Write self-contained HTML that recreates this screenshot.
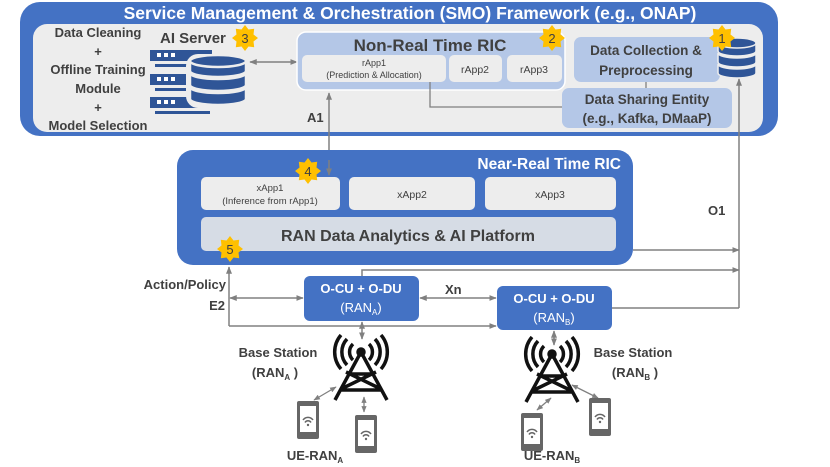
<!DOCTYPE html>
<html><head><meta charset="utf-8"><style>
html,body{margin:0;padding:0;background:#fff;}
svg{display:block;font-family:"Liberation Sans",sans-serif;}
.t{font-weight:bold;fill:#404040;}
</style></head><body>
<svg width="830" height="467" viewBox="0 0 830 467" xmlns="http://www.w3.org/2000/svg">
<defs>
<marker id="a" viewBox="0 0 10 10" refX="9" refY="5" markerWidth="5" markerHeight="5" orient="auto-start-reverse"><path d="M0,1 L10,5 L0,9 z" fill="#808080"/></marker>
<g id="star"><polygon points="0,-13 3.5,-8.5 9.2,-9.2 8.5,-3.5 13,0 8.5,3.5 9.2,9.2 3.5,8.5 0,13 -3.5,8.5 -9.2,9.2 -8.5,3.5 -13,0 -8.5,-3.5 -9.2,-9.2 -3.5,-8.5" fill="#FFC000"/></g>
<g id="phone"><rect x="-11" y="-19" width="22" height="38" rx="2" fill="#666"/><rect x="-8" y="-14" width="16" height="26" fill="#fff"/><path d="M-5,0 a6,6 0 0 1 10,0 M-3,2.5 a3.5,3.5 0 0 1 6,0" stroke="#666" stroke-width="1.5" fill="none"/><circle cx="0" cy="5" r="1.2" fill="#666"/></g>
<g id="tower" stroke="#111" stroke-width="3.5" fill="none"><path d="M0,0 L-26,48 M0,0 L26,48 M-20,37 L15,20 M20,37 L-15,20 M-12,22 L12,22 M-21,38 L21,38"/><path d="M-8,-8 a11,11 0 0 0 0,16 M8,-8 a11,11 0 0 1 0,16 M-14,-13 a19,19 0 0 0 0,26 M14,-13 a19,19 0 0 1 0,26 M-20,-17 a26,26 0 0 0 0,34 M20,-17 a26,26 0 0 1 0,34"/><circle cx="0" cy="0" r="3" fill="#111"/></g>
</defs>

<rect x="20" y="2" width="758" height="134" rx="20" fill="#4472C4"/>
<text x="410" y="19" text-anchor="middle" font-size="17.5" font-weight="bold" fill="#fff">Service Management &amp; Orchestration (SMO) Framework (e.g., ONAP)</text>
<rect x="33" y="24" width="730" height="108" rx="14" fill="#EDEDED"/>
<g class="t" font-size="13" text-anchor="middle">
<text x="98" y="37">Data Cleaning</text><text x="98" y="56">+</text>
<text x="98" y="74">Offline Training</text><text x="98" y="93">Module</text>
<text x="98" y="112">+</text><text x="98" y="130">Model Selection</text>
</g>
<text x="160" y="43" class="t" font-size="15">AI Server</text>
<use href="#star" x="245" y="38"/><text x="245" y="43" text-anchor="middle" font-size="13" fill="#404040">3</text>
<g fill="#2F5597">
<rect x="150" y="50" width="62" height="11"/><rect x="150" y="74" width="62" height="11"/><rect x="150" y="97" width="62" height="11"/>
<rect x="155" y="64" width="55" height="3"/><rect x="155" y="88" width="55" height="3"/><rect x="155" y="111" width="55" height="3"/>
</g>
<g fill="#fff"><rect x="157" y="53" width="4" height="4"/><rect x="164" y="53" width="4" height="4"/><rect x="171" y="53" width="4" height="4"/>
<rect x="157" y="77" width="4" height="4"/><rect x="164" y="77" width="4" height="4"/><rect x="171" y="77" width="4" height="4"/>
<rect x="157" y="100" width="4" height="4"/><rect x="164" y="100" width="4" height="4"/><rect x="171" y="100" width="4" height="4"/></g>
<rect x="186" y="54" width="64" height="54" rx="12" fill="#EDEDED"/>
<g fill="#2F5597" stroke="#EDEDED" stroke-width="2.5">
<path d="M190,87 v12 a28,6 0 0 0 56,0 v-12 a28,6 0 0 1 -56,0z"/>
<path d="M190,73 v12 a28,6 0 0 0 56,0 v-12 a28,6 0 0 1 -56,0z"/>
<path d="M190,61 v10 a28,6 0 0 0 56,0 v-10 z"/>
<ellipse cx="218" cy="61" rx="28" ry="6"/>
</g>
<line x1="250" y1="62" x2="297" y2="62" stroke="#808080" stroke-width="1.5" marker-start="url(#a)" marker-end="url(#a)"/>

<rect x="297" y="32" width="268" height="58" rx="9" fill="#B4C7E7" stroke="#fff" stroke-width="1.5"/>
<text x="430" y="51" text-anchor="middle" class="t" font-size="17">Non-Real Time RIC</text>
<use href="#star" x="552" y="38"/><text x="552" y="43" text-anchor="middle" font-size="13" fill="#404040">2</text>
<rect x="302" y="55" width="144" height="27" rx="5" fill="#EDEDED"/>
<text x="374" y="66" text-anchor="middle" font-size="9" fill="#404040">rApp1</text>
<text x="374" y="78" text-anchor="middle" font-size="9" fill="#404040">(Prediction &amp; Allocation)</text>
<rect x="449" y="55" width="53" height="27" rx="5" fill="#EDEDED"/>
<text x="475" y="73" text-anchor="middle" font-size="10.5" fill="#404040">rApp2</text>
<rect x="507" y="55" width="55" height="27" rx="5" fill="#EDEDED"/>
<text x="534" y="73" text-anchor="middle" font-size="10.5" fill="#404040">rApp3</text>

<rect x="574" y="37" width="146" height="45" rx="7" fill="#B4C7E7"/>
<text x="646" y="55" text-anchor="middle" class="t" font-size="13.5">Data Collection &amp;</text>
<text x="646" y="75" text-anchor="middle" class="t" font-size="13.5">Preprocessing</text>
<g fill="#2F5597" stroke="#EDEDED" stroke-width="1.5">
<path d="M718,64 v9 a19,5 0 0 0 38,0 v-9 a19,5 0 0 1 -38,0z"/>
<path d="M718,53 v9 a19,5 0 0 0 38,0 v-9 a19,5 0 0 1 -38,0z"/>
<path d="M718,43 v8 a19,5 0 0 0 38,0 v-8z"/>
<ellipse cx="737" cy="43" rx="19" ry="5"/>
</g>
<use href="#star" x="722" y="38"/><text x="722" y="43" text-anchor="middle" font-size="13" fill="#404040">1</text>
<line x1="646" y1="82" x2="646" y2="88" stroke="#808080" stroke-width="1.3"/>
<polyline points="430,82 430,107 562,107" fill="none" stroke="#808080" stroke-width="1.3"/>
<rect x="562" y="88" width="170" height="40" rx="7" fill="#B4C7E7"/>
<text x="647" y="104" text-anchor="middle" class="t" font-size="13.5">Data Sharing Entity</text>
<text x="647" y="123" text-anchor="middle" class="t" font-size="13.5">(e.g., Kafka, DMaaP)</text>

<line x1="329" y1="173" x2="329" y2="93" stroke="#808080" stroke-width="1.5" marker-start="url(#a)" marker-end="url(#a)"/>
<text x="307" y="122" class="t" font-size="13">A1</text>

<line x1="739" y1="308" x2="739" y2="79" stroke="#808080" stroke-width="1.5" marker-end="url(#a)"/>
<text x="708" y="215" class="t" font-size="13">O1</text>
<line x1="633" y1="250" x2="739" y2="250" stroke="#808080" stroke-width="1.5" marker-end="url(#a)"/>
<polyline points="362,276 362,270 739,270" fill="none" stroke="#808080" stroke-width="1.5" marker-end="url(#a)"/>
<polyline points="612,308 739,308" fill="none" stroke="#808080" stroke-width="1.5"/>

<rect x="177" y="150" width="456" height="115" rx="16" fill="#4472C4"/>
<text x="621" y="169" text-anchor="end" font-size="15.5" font-weight="bold" fill="#fff">Near-Real Time RIC</text>
<rect x="201" y="177" width="139" height="33" rx="5" fill="#EDEDED"/>
<text x="270" y="191" text-anchor="middle" font-size="9.5" fill="#404040">xApp1</text>
<text x="270" y="204" text-anchor="middle" font-size="9.5" fill="#404040">(Inference from rApp1)</text>
<rect x="349" y="177" width="126" height="33" rx="5" fill="#EDEDED"/>
<text x="412" y="198" text-anchor="middle" font-size="10.5" fill="#404040">xApp2</text>
<rect x="485" y="177" width="131" height="33" rx="5" fill="#EDEDED"/>
<text x="550" y="198" text-anchor="middle" font-size="10.5" fill="#404040">xApp3</text>
<rect x="201" y="217" width="415" height="34" rx="5" fill="#D6DCE5"/>
<text x="408" y="241" text-anchor="middle" class="t" font-size="16">RAN Data Analytics &amp; AI Platform</text>
<line x1="329" y1="160" x2="329" y2="175" stroke="#808080" stroke-width="1.5" marker-end="url(#a)"/>
<use href="#star" x="308" y="171"/><text x="308" y="176" text-anchor="middle" font-size="13" fill="#404040">4</text>
<use href="#star" x="230" y="249"/><text x="230" y="254" text-anchor="middle" font-size="13" fill="#404040">5</text>

<line x1="229" y1="326" x2="229" y2="267" stroke="#808080" stroke-width="1.5" marker-end="url(#a)"/>
<line x1="229" y1="326" x2="496" y2="326" stroke="#808080" stroke-width="1.5" marker-end="url(#a)"/>
<line x1="230" y1="298" x2="303" y2="298" stroke="#808080" stroke-width="1.5" marker-start="url(#a)" marker-end="url(#a)"/>
<line x1="420" y1="298" x2="496" y2="298" stroke="#808080" stroke-width="1.5" marker-start="url(#a)" marker-end="url(#a)"/>
<text x="226" y="289" text-anchor="end" class="t" font-size="13">Action/Policy</text>
<text x="225" y="310" text-anchor="end" class="t" font-size="13">E2</text>
<text x="445" y="294" class="t" font-size="13">Xn</text>

<rect x="304" y="276" width="115" height="45" rx="6" fill="#4472C4"/>
<text x="361" y="293" text-anchor="middle" font-size="13" font-weight="bold" fill="#fff">O-CU + O-DU</text>
<text x="361" y="312" text-anchor="middle" font-size="13" fill="#fff">(RAN<tspan font-size="8" dy="3">A</tspan><tspan dy="-3">)</tspan></text>
<rect x="497" y="286" width="115" height="44" rx="6" fill="#4472C4"/>
<text x="554" y="303" text-anchor="middle" font-size="13" font-weight="bold" fill="#fff">O-CU + O-DU</text>
<text x="554" y="322" text-anchor="middle" font-size="13" fill="#fff">(RAN<tspan font-size="8" dy="3">B</tspan><tspan dy="-3">)</tspan></text>

<line x1="362" y1="322" x2="362" y2="339" stroke="#808080" stroke-width="1.5" marker-start="url(#a)" marker-end="url(#a)"/>
<line x1="554" y1="331" x2="554" y2="345" stroke="#808080" stroke-width="1.5" marker-start="url(#a)" marker-end="url(#a)"/>
<use href="#tower" x="361" y="352"/>
<use href="#tower" x="552" y="354"/>
<line x1="314" y1="400" x2="336" y2="387" stroke="#808080" stroke-width="1.3" marker-start="url(#a)" marker-end="url(#a)"/>
<line x1="364" y1="397" x2="364" y2="412" stroke="#808080" stroke-width="1.3" marker-start="url(#a)" marker-end="url(#a)"/>
<line x1="537" y1="410" x2="551" y2="398" stroke="#808080" stroke-width="1.3" marker-start="url(#a)" marker-end="url(#a)"/>
<line x1="572" y1="385" x2="598" y2="398" stroke="#808080" stroke-width="1.3" marker-start="url(#a)" marker-end="url(#a)"/>
<use href="#phone" x="308" y="420"/>
<use href="#phone" x="366" y="434"/>
<use href="#phone" x="532" y="432"/>
<use href="#phone" x="600" y="417"/>
<text x="278" y="357" text-anchor="middle" class="t" font-size="13" fill="#222">Base Station</text>
<text x="275" y="377" text-anchor="middle" class="t" font-size="13">(RAN<tspan font-size="8" dy="3">A</tspan><tspan dy="-3"> )</tspan></text>
<text x="633" y="357" text-anchor="middle" class="t" font-size="13">Base Station</text>
<text x="635" y="377" text-anchor="middle" class="t" font-size="13">(RAN<tspan font-size="8" dy="3">B</tspan><tspan dy="-3"> )</tspan></text>
<text x="315" y="460" text-anchor="middle" class="t" font-size="13" fill="#111">UE-RAN<tspan font-size="8" dy="3">A</tspan></text>
<text x="552" y="460" text-anchor="middle" class="t" font-size="13" fill="#111">UE-RAN<tspan font-size="8" dy="3">B</tspan></text>
</svg>
</body></html>
